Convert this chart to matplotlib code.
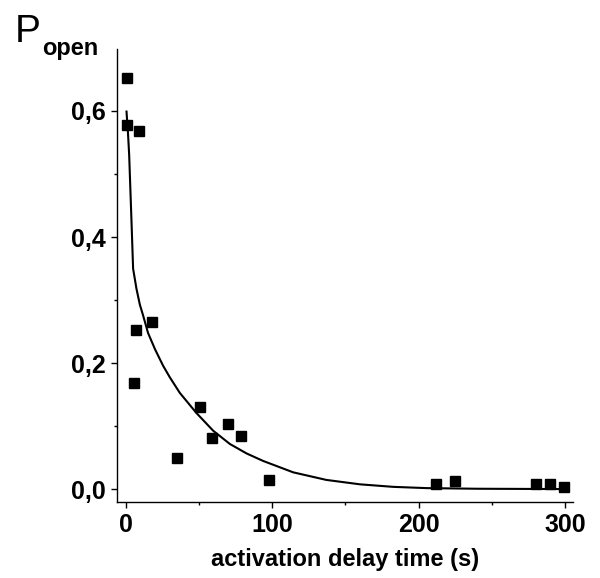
import matplotlib
matplotlib.use("Agg")
import matplotlib.pyplot as plt
from matplotlib.ticker import MultipleLocator, FuncFormatter

# measured data points
delay_time = [0.5, 0.5, 8.9, 6.8, 5.9, 18, 34.7, 51, 59, 69.7, 78.4, 97.5,
              211.7, 225, 280, 290, 299.6]
p_open = [0.652, 0.577, 0.568, 0.252, 0.168, 0.265, 0.049, 0.131, 0.081,
          0.104, 0.084, 0.015, 0.008, 0.013, 0.0085, 0.0085, 0.004]

# fitted curve
curve_x = [0.5, 1.5, 2.3, 3.1, 3.9, 5.0, 7.3, 9.6, 11.8, 15.2, 20, 25.5, 30,
           36.9, 48.3, 59.7, 71.1, 82.5, 93.9, 105.3, 114.4, 137, 160, 182.7,
           205.5, 240, 300]
curve_y = [0.599, 0.565, 0.531, 0.478, 0.425, 0.350, 0.318, 0.293, 0.276,
           0.248, 0.222, 0.196, 0.178, 0.153, 0.121, 0.093, 0.072, 0.057,
           0.045, 0.035, 0.027, 0.015, 0.008, 0.004, 0.002, 0.001, 0.0005]

x_ticks = [0, 100, 200, 300]
y_ticks = [0.0, 0.2, 0.4, 0.6]

plt.rcParams['font.family'] = ['Liberation Sans', 'DejaVu Sans']

fig = plt.figure(figsize=(6.0, 5.78), dpi=100)
ax = fig.add_axes([0.195, 0.1315, 0.76, 0.7835])

ax.plot(curve_x, curve_y, color='black', lw=1.5, zorder=2)
ax.plot(delay_time, p_open, ls='none', marker='s', ms=7.5, color='black',
        zorder=3)

ax.set_xlim(-6, 305.5)
ax.set_ylim(-0.02, 0.698)
ax.set_xticks(x_ticks)
ax.set_yticks(y_ticks)
ax.xaxis.set_minor_locator(MultipleLocator(50))
ax.yaxis.set_minor_locator(MultipleLocator(0.1))
ax.yaxis.set_major_formatter(FuncFormatter(lambda v, p: f"{v:.1f}".replace('.', ',')))

for s in ['top', 'right']:
    ax.spines[s].set_visible(False)
for s in ['left', 'bottom']:
    ax.spines[s].set_linewidth(1.0)

ax.tick_params(which='major', direction='out', length=4, width=1.0,
               labelsize=18, pad=4)
ax.tick_params(which='minor', direction='out', length=2, width=1.0)
for lab in ax.get_xticklabels() + ax.get_yticklabels():
    lab.set_fontweight('bold')

ax.set_xlabel('activation delay time (s)', fontsize=17, fontweight='bold',
              labelpad=8)

fig.text(0.025, 0.927, 'P', fontsize=28, va='baseline', ha='left')
fig.text(0.07, 0.905, 'open', fontsize=17, fontweight='bold', va='baseline',
         ha='left')

fig.savefig('out.png', dpi=100)
